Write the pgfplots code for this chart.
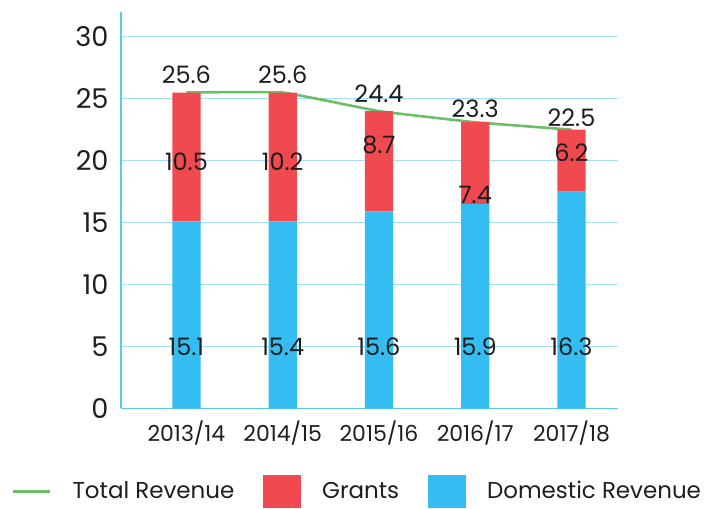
\documentclass[border=0pt]{standalone}
\usepackage{pgfplots}
\usepackage{pgfplotstable}
\pgfplotsset{compat=1.18}
\usepackage{fontspec}
\setmainfont{Poppins}

\definecolor{domblue}{RGB}{51,189,241}
\definecolor{grantred}{RGB}{240,74,80}
\definecolor{totgreen}{RGB}{108,190,106}
\definecolor{gridblue}{RGB}{165,224,247}
\definecolor{axisblue}{RGB}{90,200,240}
\definecolor{txt}{RGB}{30,30,30}

\pgfplotsset{
    frame/.style={scale only axis, width=248.85pt, height=198.5pt,
        xmin=-0.678, xmax=4.485, ymin=0, ymax=32},
    sqlegend/.style={legend image code/.code={\fill[##1] (0pt,-8.25pt) rectangle (19pt,8.25pt);}},
    lnlegend/.style={legend image code/.code={\draw[##1] (0pt,0pt) -- (18.5pt,0pt);}},
    vlabel/.style={only marks, mark=none,
        nodes near coords, point meta=explicit symbolic,
        every node near coord/.append style={anchor=center, text=txt,
            font=\fontsize{12}{14}\selectfont}},
}

% bar heights as drawn (domestic, grants) and the total line
\pgfplotstableread{
x dom grant tot
0 15.1 10.4 25.5
1 15.1 10.4 25.5
2 15.9 8.1 24.0
3 16.5 6.6 23.1
4 17.5 5.0 22.5
}\revdata

% printed labels and where they sit
\pgfplotstableread{
x y lab
0 26.9 25.6
1 26.9 25.6
2 25.4 24.4
3 24.2 23.3
4 23.5 22.5
}\totlab
\pgfplotstableread{
x y lab
0 19.9 10.5
1 19.9 10.2
2 21.25 8.7
3 17.2 7.4
4 20.6 6.2
}\grantlab
\pgfplotstableread{
x y lab
0 5 15.1
1 5 15.4
2 5 15.6
3 5 15.9
4 5 16.3
}\domlab

\begin{document}
\begin{tikzpicture}
\begin{axis}[
    frame,
    ybar stacked, bar width=0.294,
    xtick={0,1,2,3,4},
    xticklabels={2013/14,2014/15,2015/16,2016/17,2017/18},
    ytick={0,5,...,30},
    axis x line*=bottom, axis y line*=left,
    axis line style={-, color=axisblue, line width=0.7pt},
    ymajorgrids, major grid style={color=gridblue, line width=0.6pt},
    major tick length=0pt,
    /pgf/number format/assume math mode=true,
    yticklabel style={font=\fontsize{13.6}{15}\selectfont, text=txt, xshift=-2.8pt},
    xticklabel style={font=\fontsize{11}{13}\selectfont, text=txt, yshift=-2.5pt},
    reverse legend,
    legend style={draw=none, fill=none, legend columns=-1,
        inner sep=0pt, outer sep=0pt,
        at={(0.4776,-0.21)}, anchor=center,
        font=\fontsize{11.5}{13}\selectfont, text=txt,
        /tikz/every odd column/.append style={column sep=8.5pt},
        /tikz/every even column/.append style={column sep=12.5pt}},
    legend cell align=left,
]
\addplot[fill=domblue, draw=none, sqlegend]
    table[x=x, y=dom] {\revdata};
\addlegendentry{Domestic Revenue}
\addplot[fill=grantred, draw=none, sqlegend]
    table[x=x, y=grant] {\revdata};
\addlegendentry{Grants}
\addplot[stack plots=false, smooth, tension=0.2, no markers, color=totgreen,
    line width=1.3pt, lnlegend]
    table[x=x, y=tot] {\revdata};
\addlegendentry{Total Revenue}
\end{axis}

% value labels on an overlaid axis with the same frame
\begin{axis}[frame, hide axis]
\addplot[vlabel] table[x=x, y=y, meta=lab] {\totlab};
\addplot[vlabel] table[x=x, y=y, meta=lab] {\grantlab};
\addplot[vlabel] table[x=x, y=y, meta=lab] {\domlab};
\end{axis}
\path ([shift={(-60.65pt,-48.5pt)}]current axis.south west)
    rectangle ([shift={(291.85pt,204.5pt)}]current axis.south west);
\end{tikzpicture}
\end{document}
